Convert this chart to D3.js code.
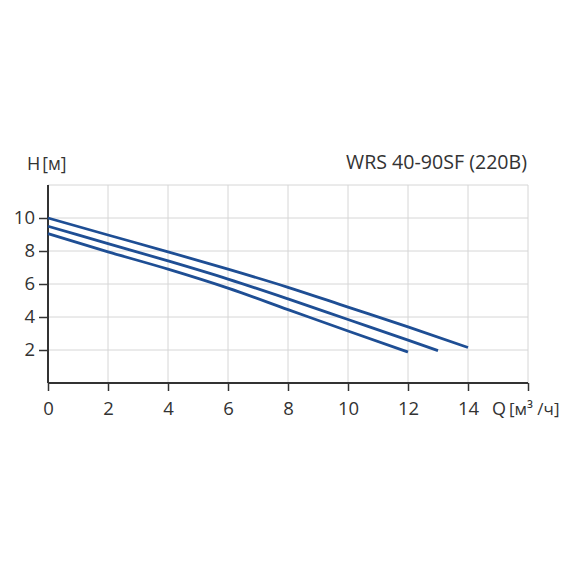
<!DOCTYPE html>
<html>
<head>
<meta charset="utf-8">
<script src="https://cdn.jsdelivr.net/npm/d3@7"></script>
<style>
  body { margin: 0; background: #fff; }
  text { font-family: "Open Sans", "Noto Sans", sans-serif; fill: #333; }
</style>
</head>
<body>
<div id="chart"></div>
<script>
// flow values, m3/h  ->  head, m
var qTop = [0, 2, 4, 6, 8, 10, 12, 14];
var hTop = [10, 8.97, 7.95, 6.9, 5.8, 4.6, 3.4, 2.15];
var qMid = [0, 2, 4, 6, 8, 10, 12, 13];
var hMid = [9.5, 8.45, 7.4, 6.3, 5.1, 3.85, 2.6, 1.96];
var qLow = [0, 2, 4, 6, 8, 10, 12];
var hLow = [9.05, 7.95, 6.9, 5.75, 4.45, 3.15, 1.88];

var xTicks = [0, 2, 4, 6, 8, 10, 12, 14];
var yTicks = [2, 4, 6, 8, 10];
var gridX = [2, 4, 6, 8, 10, 12, 14, 16];
var gridY = [2, 4, 6, 8, 10, 12];

var title = "WRS 40-90SF (220B)";

var svg = d3.select("#chart").append("svg")
    .attr("width", 570)
    .attr("height", 570);

var x = d3.scaleLinear().domain([0, 16]).range([48, 528]);
var y = d3.scaleLinear().domain([0, 12]).range([383, 185]);

// grid
var grid = svg.append("g");
grid.selectAll(".gx").data(gridX).enter().append("line")
    .attr("x1", function(d){ return x(d); })
    .attr("x2", function(d){ return x(d); })
    .attr("y1", y(0))
    .attr("y2", y(12))
    .attr("stroke", "#d6d6d6")
    .attr("stroke-width", 1);
grid.selectAll(".gy").data(gridY).enter().append("line")
    .attr("x1", x(0))
    .attr("x2", x(16))
    .attr("y1", function(d){ return y(d); })
    .attr("y2", function(d){ return y(d); })
    .attr("stroke", "#d6d6d6")
    .attr("stroke-width", 1);

// axes
var xAxis = d3.axisBottom(x).tickValues(xTicks.concat([16])).tickSize(8).tickPadding(11)
    .tickFormat(function(d){ return d == 16 ? "" : d; });
var gx = svg.append("g").attr("transform", "translate(0," + y(0) + ")").call(xAxis);

var yAxis = d3.axisLeft(y).tickValues(yTicks).tickSize(9).tickPadding(4);
var gy = svg.append("g").attr("transform", "translate(" + x(0) + ",0)").call(yAxis);

[gx, gy].forEach(function(g){
    g.select(".domain").attr("stroke", "#333").attr("stroke-width", 2)
    g.selectAll(".tick line").attr("stroke", "#333").attr("stroke-width", 1.5)
    g.selectAll(".tick text").attr("font-size", "18.5px").attr("fill", "#333")
        .style("font-family", "'Open Sans', 'Noto Sans', sans-serif")
});
gx.select(".domain").attr("d", "M" + x(0) + ",0H" + x(16));
gy.select(".domain").attr("d", "M0," + y(0) + "V" + y(12));

// curves
var line = d3.line()
    .x(function(d){ return x(d[0]); })
    .y(function(d){ return y(d[1]); })
    .curve(d3.curveMonotoneX);

var curves = [d3.zip(qTop, hTop), d3.zip(qMid, hMid), d3.zip(qLow, hLow)];
svg.append("g").selectAll("path").data(curves).enter().append("path")
    .attr("d", line)
    .attr("fill", "none")
    .attr("stroke", "#1e4e94")
    .attr("stroke-width", 2.8);

// labels
var hLabel = svg.append("text").attr("x", 27).attr("y", 170).attr("font-size", "18px");
hLabel.append("tspan").text("H");
hLabel.append("tspan").attr("dx", 2).attr("font-size", "17.5px").text("[м]");

svg.append("text")
    .attr("x", 527).attr("y", 169)
    .attr("text-anchor", "end")
    .attr("font-size", "19.6px")
    .text(title);

var qLabel = svg.append("text").attr("x", 492).attr("y", 415).attr("font-size", "18px");
qLabel.append("tspan").text("Q");
qLabel.append("tspan").attr("dx", 3).attr("font-size", "17px").text("[м³ /ч]");
</script>
</body>
</html>
